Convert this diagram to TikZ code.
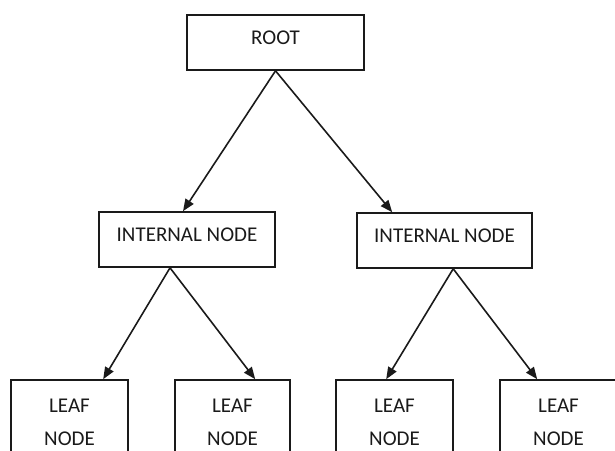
\documentclass[tikz,border=0pt]{standalone}
\usepackage{fontspec}
\setmainfont{Carlito}
\usetikzlibrary{arrows.meta,calc}
\definecolor{ink}{HTML}{1A1A1A}
\tikzset{
  box/.style={draw=ink, line width=1.6pt, rectangle, inner sep=0pt,
    minimum height=55pt, text=ink, font=\fontsize{21}{33}\selectfont, text depth=9pt},
  leafbox/.style={draw=ink, line width=1.6pt, rectangle, inner sep=0pt,
    minimum height=85pt, text=ink, align=center, font=\fontsize{21}{33}\selectfont},
  conn/.style={draw=ink, line width=1.6pt, -{Triangle[length=12pt,width=9.5pt]}}
}
\begin{document}
\begin{tikzpicture}[x=1pt,y=-1pt]
\useasboundingbox (0,0) rectangle (615,450);
\clip (0,0) rectangle (615,450);
\node[box, minimum width=177pt] (root) at (275.5,42.5) {ROOT};
\node[box, minimum width=176pt] (int1) at (187,239.5) {INTERNAL NODE};
\node[box, minimum width=175pt] (int2) at (444.5,240.5) {INTERNAL NODE};
\node[leafbox, minimum width=117pt] (leaf1) at (69.5,422.5) {LEAF\\NODE};
\node[leafbox, minimum width=115pt] (leaf2) at (232.5,422.5) {LEAF\\NODE};
\node[leafbox, minimum width=117pt] (leaf3) at (394.5,422.5) {LEAF\\NODE};
\node[leafbox, minimum width=117pt] (leaf4) at (558.5,422.5) {LEAF\\NODE};
\draw[conn] (root.south) -- ([xshift=-4pt]int1.north);
\draw[conn] (root.south) -- ([xshift=36pt]int2.north west);
\draw[conn] ([xshift=-17pt]int1.south) -- ([xshift=93pt]leaf1.north west);
\draw[conn] ([xshift=-17pt]int1.south) -- ([xshift=81pt]leaf2.north west);
\draw[conn] ([xshift=97pt]int2.south west) -- ([xshift=51pt]leaf3.north west);
\draw[conn] ([xshift=97pt]int2.south west) -- ([xshift=38pt]leaf4.north west);
\end{tikzpicture}
\end{document}
